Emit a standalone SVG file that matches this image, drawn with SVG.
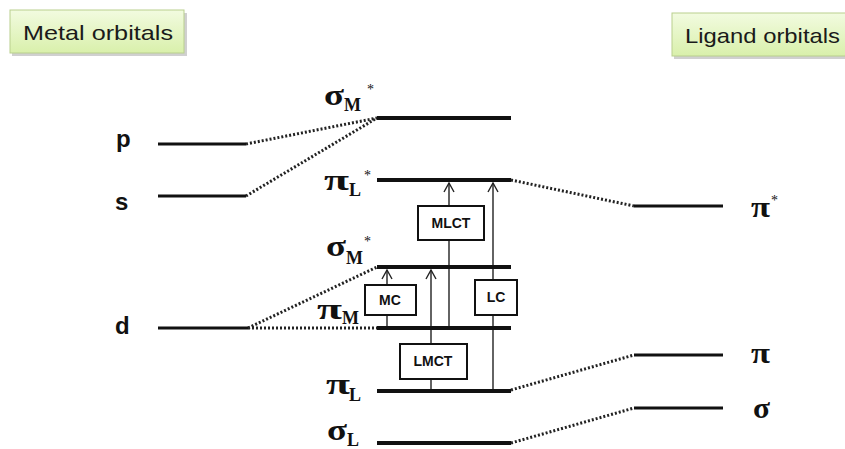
<svg xmlns="http://www.w3.org/2000/svg" width="845" height="449" viewBox="0 0 845 449">
<defs>
<linearGradient id="g" x1="0" y1="0" x2="0" y2="1">
<stop offset="0" stop-color="#f2fbe0"/>
<stop offset="1" stop-color="#d9f0ab"/>
</linearGradient>
<marker id="ah" viewBox="-6 -1 12 12" markerWidth="12" markerHeight="12" refX="0" refY="0" orient="0" markerUnits="userSpaceOnUse">
<path d="M-5,9 L0,0 L5,9" fill="none" stroke="#222" stroke-width="1.4"/>
</marker>
<style>
.title{font-family:"Liberation Sans",Arial,sans-serif;font-size:21px;fill:#1a1a1a}
.tbox{fill:url(#g);stroke:#b9cf8e;stroke-width:1}
.shadow{fill:#d0d0d0}
.lvl{stroke:#111;stroke-width:4;fill:none}
.side{stroke:#111;stroke-width:3;fill:none}
.dot{stroke:#222;stroke-width:3;stroke-dasharray:2 2;fill:none}
.arr{stroke:#222;stroke-width:1.4;fill:none}
.box{fill:#fff;stroke:#111;stroke-width:2}
.bl{font-family:"Liberation Sans",Arial,sans-serif;font-weight:bold;font-size:14px;fill:#111;text-anchor:middle}
.ao{font-family:"Liberation Sans",Arial,sans-serif;font-weight:bold;font-size:24px;fill:#111}
.gk{font-family:"Liberation Serif","Times New Roman",serif;font-weight:bold;font-size:30px;fill:#111}
.sb{font-family:"Liberation Serif","Times New Roman",serif;font-weight:bold;font-size:18px;fill:#111}
.st{font-family:"Liberation Serif","Times New Roman",serif;font-size:14px;fill:#111}
</style>
</defs>
<rect width="845" height="449" fill="#fff"/>

<g id="metal-title">
<rect class="shadow" x="12" y="13" width="175" height="43"/>
<rect class="tbox" x="10" y="10" width="174" height="43"/>
<text class="title" x="23" y="40" textLength="150" lengthAdjust="spacingAndGlyphs">Metal orbitals</text>
</g>
<g id="ligand-title">
<rect class="shadow" x="674" y="16" width="175" height="43"/>
<rect class="tbox" x="672" y="13" width="180" height="43"/>
<text class="title" x="685" y="43" textLength="155" lengthAdjust="spacingAndGlyphs">Ligand orbitals</text>
</g>

<g id="connectors">
<path class="dot" d="M246,144 L377,118"/>
<path class="dot" d="M246,196 L377,118"/>
<path class="dot" d="M248,328 L377,267"/>
<path class="dot" d="M248,328 L377,328"/>
<path class="dot" d="M511,180 L634,206"/>
<path class="dot" d="M511,390 L634,355"/>
<path class="dot" d="M511,443 L634,408"/>
<path class="arr" d="M387,328 L387,270" marker-end="url(#ah)"/>
<path class="arr" d="M431,390 L431,270" marker-end="url(#ah)"/>
<path class="arr" d="M449,328 L449,183" marker-end="url(#ah)"/>
<path class="arr" d="M493,390 L493,183" marker-end="url(#ah)"/>
</g>

<g id="p">
<line class="side" x1="158" y1="144" x2="246" y2="144"/>
<text class="ao" x="116" y="147">p</text>
</g>
<g id="s">
<line class="side" x1="158" y1="196" x2="246" y2="196"/>
<text class="ao" x="115" y="210">s</text>
</g>
<g id="d">
<line class="side" x1="158" y1="328" x2="248" y2="328"/>
<text class="ao" x="115" y="334">d</text>
</g>

<g id="sigmaM-star-top">
<line class="lvl" x1="377" y1="118" x2="511" y2="118"/>
<text class="gk" x="324" y="105" textLength="20" lengthAdjust="spacingAndGlyphs">σ</text><text class="sb" x="344" y="111">M</text><text class="st" x="367" y="94">*</text>
</g>
<g id="piL-star">
<line class="lvl" x1="377" y1="180" x2="511" y2="180"/>
<text class="gk" x="324" y="190" textLength="25" lengthAdjust="spacingAndGlyphs">π</text><text class="sb" x="349" y="196">L</text><text class="st" x="364" y="180">*</text>
</g>
<g id="sigmaM-star">
<line class="lvl" x1="377" y1="267" x2="511" y2="267"/>
<text class="gk" x="326" y="256" textLength="20" lengthAdjust="spacingAndGlyphs">σ</text><text class="sb" x="346" y="264">M</text><text class="st" x="364" y="246">*</text>
</g>
<g id="piM">
<line class="lvl" x1="377" y1="328" x2="511" y2="328"/>
<text class="gk" x="317" y="319" textLength="25" lengthAdjust="spacingAndGlyphs">π</text><text class="sb" x="342" y="324">M</text>
</g>
<g id="piL">
<line class="lvl" x1="377" y1="391" x2="511" y2="391"/>
<text class="gk" x="326" y="394" textLength="24" lengthAdjust="spacingAndGlyphs">π</text><text class="sb" x="349" y="401">L</text>
</g>
<g id="sigmaL">
<line class="lvl" x1="377" y1="443" x2="511" y2="443"/>
<text class="gk" x="327" y="440" textLength="20" lengthAdjust="spacingAndGlyphs">σ</text><text class="sb" x="347" y="446">L</text>
</g>

<g id="pi-star">
<line class="side" x1="634" y1="206" x2="723" y2="206"/>
<text class="gk" x="751" y="217" textLength="19" lengthAdjust="spacingAndGlyphs">π</text><text class="st" x="771" y="205">*</text>
</g>
<g id="pi">
<line class="side" x1="634" y1="355" x2="723" y2="355"/>
<text class="gk" x="751" y="363" textLength="19" lengthAdjust="spacingAndGlyphs">π</text>
</g>
<g id="sigma">
<line class="side" x1="634" y1="408" x2="723" y2="408"/>
<text class="gk" x="753" y="418" textLength="17" lengthAdjust="spacingAndGlyphs">σ</text>
</g>

<g id="MLCT">
<rect class="box" x="418" y="206" width="66" height="34"/>
<text class="bl" x="451" y="228">MLCT</text>
</g>
<g id="MC">
<rect class="box" x="365" y="285" width="51" height="30"/>
<text class="bl" x="390" y="305">MC</text>
</g>
<g id="LC">
<rect class="box" x="475" y="280" width="42" height="35"/>
<text class="bl" x="496" y="302">LC</text>
</g>
<g id="LMCT">
<rect class="box" x="400" y="344" width="67" height="35"/>
<text class="bl" x="433" y="366">LMCT</text>
</g>
</svg>
